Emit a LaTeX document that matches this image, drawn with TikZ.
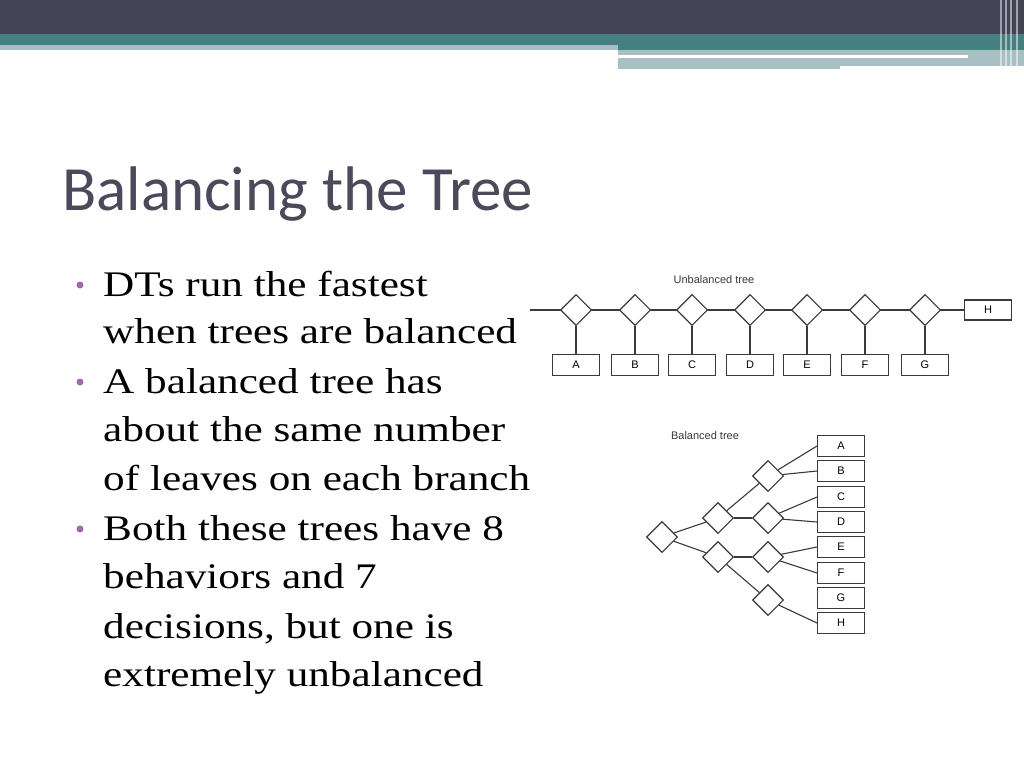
\documentclass[tikz,border=0pt]{standalone}
\usepackage{fontspec}
\setmainfont{Liberation Serif}
\newfontfamily\titlefont{Carlito}
\newfontfamily\labfont{Liberation Sans}
\usetikzlibrary{shapes.geometric}
\definecolor{dark}{HTML}{434356}
\definecolor{teal1}{HTML}{44807F}
\definecolor{light1}{HTML}{A8C0C3}
\definecolor{titlec}{HTML}{4A4A5A}
\definecolor{bul}{HTML}{9B6CA5}
\definecolor{ln}{HTML}{3A3A3A}
\begin{document}
\begin{tikzpicture}[x=1pt,y=-1pt,
  dia/.style={diamond,draw=ln,fill=white,line width=1.1pt,minimum size=31pt,inner sep=0pt},
  leaf/.style={draw=ln,line width=1.1pt,minimum width=47pt,minimum height=21pt,inner sep=0pt,font=\labfont\fontsize{11}{12}\selectfont},
  conn/.style={draw=ln,line width=1.1pt},
  lab/.style={font=\labfont\fontsize{11}{12}\selectfont,text=ln},
  btxt/.style={anchor=base west,font=\fontsize{36}{40}\selectfont,text=black,xscale=1.2}]
\useasboundingbox (0,0) rectangle (1024,768);
\fill[white] (0,0) rectangle (1024,768);
% header
\fill[dark] (0,0) rectangle (1024,34);
\fill[teal1] (0,34) rectangle (1024,45);
\fill[light1] (0,45) rectangle (618,50);
\fill[teal1] (618,45) rectangle (1024,50);
\fill[light1] (618,50) rectangle (1024,69);
\fill[white] (618,55) rectangle (968,58);
\fill[white] (840,66) rectangle (1024,69);
\foreach \x in {1000,1005,1010,1016}{\fill[white,opacity=0.5] (\x,0) rectangle (\x+1.5,69);}
% title
\node[anchor=base west,inner sep=0,text=titlec,font=\titlefont\fontsize{63}{66}\selectfont] (title) at (62,210) {Balancing the Tree};
% bullets
\foreach \y/\t/\b in {296/{DTs run the fastest}/1,343/{when trees are balanced}/0,393/{A balanced tree has}/1,441/{about the same number}/0,490/{of leaves on each branch}/0,540/{Both these trees have 8}/1,588/{behaviors and 7}/0,638/{decisions, but one is}/0,686/{extremely unbalanced}/0}{
  \node[btxt,inner sep=0] at (103,\y) {\t};
  \ifnum\b=1 \fill[bul] (80,\y-11) circle (3.5pt);\fi
}
% unbalanced
\node[lab] (ulab) at (714,280) {Unbalanced tree};
\coordinate (ustart) at (530,310);
\node[leaf,minimum height=20pt] (uH) at (988,310) {H};
\foreach \i/\x/\l in {1/576/A,2/635/B,3/692/C,4/750/D,5/807/E,6/865/F,7/925/G}{
  \node[leaf] (ul\i) at (\x,365) {\l};
}
\draw[conn] (ustart) -- (uH.west);
\foreach \i/\x in {1/576,2/635,3/692,4/750,5/807,6/865,7/925}{
  \node[dia] (ud\i) at (\x,310) {};
  \draw[conn] (ud\i.south) -- (ul\i.north);
}
% balanced
\node[lab] (blab) at (705,436) {Balanced tree};
\foreach \n/\y in {A/446,B/471,C/497,D/522,E/547,F/573,G/598,H/623}{
  \node[leaf] (b\n) at (841,\y) {\n};
}
\node[dia] (r) at (662,537) {};
\node[dia] (m1) at (718,518) {};
\node[dia] (m2) at (718,557) {};
\node[dia] (n1) at (768,476) {};
\node[dia] (n2) at (768,518) {};
\node[dia] (n3) at (768,557) {};
\node[dia] (n4) at (768,600) {};
\draw[conn] (r) -- (m1); \draw[conn] (r) -- (m2);
\draw[conn] (m1) -- (n1); \draw[conn] (m1) -- (n2);
\draw[conn] (m2) -- (n3); \draw[conn] (m2) -- (n4);
\draw[conn] (n1) -- (bA.west); \draw[conn] (n1) -- (bB.west);
\draw[conn] (n2) -- (bC.west); \draw[conn] (n2) -- (bD.west);
\draw[conn] (n3) -- (bE.west); \draw[conn] (n3) -- (bF.west);
\draw[conn] (n4) -- (bH.west);
\end{tikzpicture}
\end{document}
